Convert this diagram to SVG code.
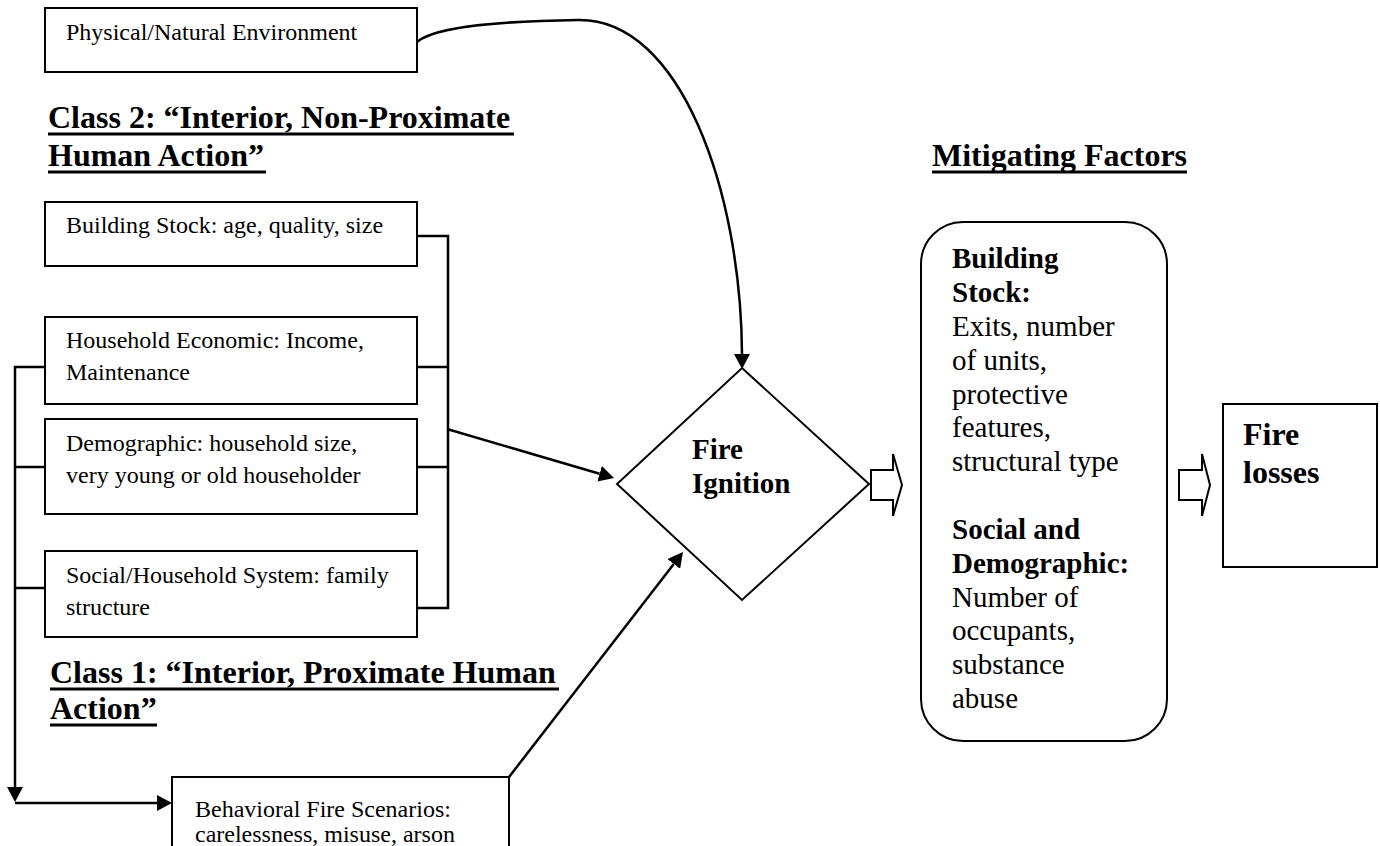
<svg xmlns="http://www.w3.org/2000/svg" width="1380" height="846" viewBox="0 0 1380 846">
<style>
.box{fill:#fff;stroke:#000;stroke-width:2}
.t{font-family:"Liberation Serif","Times New Roman",serif;font-size:24px;fill:#000}
.m{font-family:"Liberation Serif","Times New Roman",serif;font-size:29px;fill:#000}
.b{font-weight:bold}
.h{font-family:"Liberation Serif","Times New Roman",serif;font-size:32px;font-weight:bold;fill:#000}
.ul{stroke:#000;stroke-width:3}
.c{fill:none;stroke:#000;stroke-width:2.5}
.blk{fill:#fff;stroke:#000;stroke-width:2;stroke-linejoin:miter}
</style>
<defs>
<marker id="ah" markerUnits="userSpaceOnUse" markerWidth="16" markerHeight="16" viewBox="0 0 16 16" refX="0" refY="8" orient="auto">
<path d="M0,0 L15,8 L0,16 z" fill="#000"/>
</marker>
</defs>
<rect width="1380" height="846" fill="#fff"/>

<g id="heading-class2">
<text class="h" x="48" y="128">Class 2: “Interior, Non-Proximate</text>
<line class="ul" x1="48" y1="134" x2="514" y2="134"/>
<text class="h" x="48" y="166">Human Action”</text>
<line class="ul" x1="48" y1="172" x2="266" y2="172"/>
</g>

<g id="heading-class1">
<text class="h" x="50" y="683">Class 1: “Interior, Proximate Human</text>
<line class="ul" x1="50" y1="689" x2="559" y2="689"/>
<text class="h" x="50" y="719">Action”</text>
<line class="ul" x1="50" y1="725" x2="157" y2="725"/>
</g>

<g id="heading-mitigating">
<text class="h" x="932" y="166">Mitigating Factors</text>
<line class="ul" x1="932" y1="172" x2="1187" y2="172"/>
</g>

<g id="connectors">
<path class="c" d="M417,42 C437,25 510,21 578,20 C680,18 741,190 742,354" marker-end="url(#ah)"/>
<polyline class="c" points="417,236 448,236 448,608 417,608"/>
<line class="c" x1="417" y1="367" x2="448" y2="367"/>
<line class="c" x1="417" y1="467" x2="448" y2="467"/>
<line class="c" x1="447" y1="429" x2="599.6" y2="473.8" marker-end="url(#ah)"/>
<polyline class="c" points="45,367 15,367 15,787" marker-end="url(#ah)"/>
<line class="c" x1="15" y1="467" x2="45" y2="467"/>
<line class="c" x1="15" y1="588" x2="45" y2="588"/>
<line class="c" x1="15" y1="803" x2="157" y2="803" marker-end="url(#ah)"/>
<line class="c" x1="509" y1="777" x2="673.8" y2="563.9" marker-end="url(#ah)"/>
<path class="blk" d="M871,470 L893,470 L893,454 L902,485 L893,516 L893,500 L871,500 Z"/>
<path class="blk" d="M1179,470 L1202,470 L1202,454 L1210,485 L1202,516 L1202,500 L1179,500 Z"/>
</g>

<g id="physical">
<rect class="box" x="45" y="8" width="372" height="64"/>
<text class="t" x="66" y="40">Physical/Natural Environment</text>
</g>

<g id="building-stock">
<rect class="box" x="45" y="202" width="372" height="64"/>
<text class="t" x="66" y="233">Building Stock: age, quality, size</text>
</g>

<g id="household-economic">
<rect class="box" x="45" y="317" width="372" height="87"/>
<text class="t" x="66" y="348">Household Economic: Income,</text>
<text class="t" x="66" y="380">Maintenance</text>
</g>

<g id="demographic">
<rect class="box" x="45" y="419" width="372" height="95"/>
<text class="t" x="66" y="451">Demographic: household size,</text>
<text class="t" x="66" y="483">very young or old householder</text>
</g>

<g id="social-household">
<rect class="box" x="45" y="551" width="372" height="86"/>
<text class="t" x="66" y="583">Social/Household System: family</text>
<text class="t" x="66" y="615">structure</text>
</g>

<g id="behavioral">
<rect class="box" x="172" y="777" width="337" height="80"/>
<text class="t" x="195" y="817">Behavioral Fire Scenarios:</text>
<text class="t" x="195" y="842">carelessness, misuse, arson</text>
</g>

<g id="fire-ignition">
<polygon points="742,368 869,484 742,600 617,484" fill="#fff" stroke="#000" stroke-width="2"/>
<text class="m b" x="692" y="459">Fire</text>
<text class="m b" x="692" y="493">Ignition</text>
</g>

<g id="mitigating">
<rect class="box" x="921" y="222" width="246" height="519" rx="42" ry="42"/>
<text class="m b" x="952" y="268">Building</text>
<text class="m b" x="952" y="302">Stock:</text>
<text class="m" x="952" y="336">Exits, number</text>
<text class="m" x="952" y="370">of units,</text>
<text class="m" x="952" y="404">protective</text>
<text class="m" x="952" y="437">features,</text>
<text class="m" x="952" y="471">structural type</text>
<text class="m b" x="952" y="539">Social and</text>
<text class="m b" x="952" y="573">Demographic:</text>
<text class="m" x="952" y="607">Number of</text>
<text class="m" x="952" y="640">occupants,</text>
<text class="m" x="952" y="674">substance</text>
<text class="m" x="952" y="708">abuse</text>
</g>

<g id="fire-losses">
<rect class="box" x="1223" y="404" width="154" height="163"/>
<text class="h" x="1243" y="445">Fire</text>
<text class="h" x="1243" y="483">losses</text>
</g>
</svg>
